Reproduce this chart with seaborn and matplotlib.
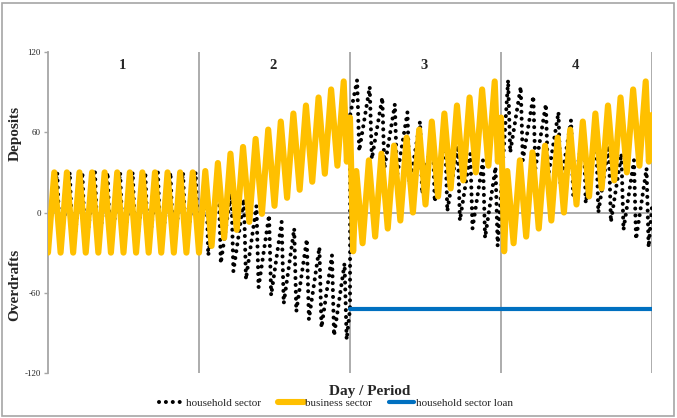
import matplotlib
matplotlib.use("Agg")
import matplotlib.pyplot as plt
import seaborn as sns
import pandas as pd
from matplotlib.lines import Line2D
from matplotlib.patches import Rectangle

# ---------------- data ----------------
PERIOD_DAYS = 360
MONTH_DAYS = 30
period_labels = ["1", "2", "3", "4"]
y_ticks = [-120, -60, 0, 60, 120]

# business sector: month peaks and troughs per period
bus_start = -30
bus_p1_peaks = [30, 30, 30, 30, 30, 30, 30, 30, 30, 30, 30, 30]
bus_p1_troughs = [-30, -30, -30, -30, -30, -30, -30, -30, -30, -30, -30, -30]
bus_p2_peaks = [31, 37, 44, 49, 55, 62, 68, 74, 80, 86, 92, 98]
bus_p2_troughs = [-25, -19, -13, -7, -1, 5, 11, 17, 23, 29, 35, 38]
bus_p3_peaks = [31, 39, 44, 50, 56, 62, 68, 74, 80, 86, 92, 98]
bus_p3_troughs = [-23, -18, -12, -6, 0, 6, 12, 18, 24, 30, 35, 38]
bus_p4_peaks = [31, 39, 45, 50, 56, 62, 68, 74, 80, 86, 92, 98]
bus_p4_troughs = [-23, -18, -12, -6, 0, 6, 12, 18, 24, 30, 35, 38]
bus_period_end = [-30, 71, 71, 73]         # value at the end of each period
bus_period_reset = [None, None, -29, -29]  # value right after a period start

# household sector: month peaks and troughs per period
hh_start = -20
hh_p1_peaks = [30, 30, 30, 30, 30, 30, 30, 30, 30, 30, 30, 30]
hh_p1_troughs = [-30, -30, -30, -30, -30, -30, -30, -30, -30, -30, -30, -30]
hh_p2_peaks = [28, 23, 17, 10, 5, -2, -7, -12, -20, -26, -32, -38]
hh_p2_troughs = [-32, -38, -44, -50, -56, -62, -68, -74, -80, -86, -92, -95]
hh_p3_peaks = [99, 94, 86, 81, 75, 68, 62, 56, 50, 44, 39, 34]
hh_p3_troughs = [46, 40, 33, 27, 20, 14, 8, 1, -6, -12, -19, -25]
hh_p4_peaks = [99, 94, 87, 81, 75, 69, 62, 56, 50, 44, 39, 33]
hh_p4_troughs = [45, 39, 33, 26, 20, 13, 7, 0, -7, -13, -20, -26]
hh_loan_jump = [-72, 73]   # household balance before / after the loan (start of period 3)
hh_end = 5

# household sector loan
loan_value = -72
loan_start_period = 3

# timing of the household peak / trough within a month (days after mid-month)
hh_peak_delay = [7, 2, 2, 2]
hh_drop_days = [7, 5, 5, 5]

# ---------------- build series ----------------
bus_peaks = [bus_p1_peaks, bus_p2_peaks, bus_p3_peaks, bus_p4_peaks]
bus_troughs = [bus_p1_troughs, bus_p2_troughs, bus_p3_troughs, bus_p4_troughs]
hh_peaks = [hh_p1_peaks, hh_p2_peaks, hh_p3_peaks, hh_p4_peaks]
hh_troughs = [hh_p1_troughs, hh_p2_troughs, hh_p3_troughs, hh_p4_troughs]

bus_day, bus_val = [0], [bus_start]
for p in range(4):
    base = p * PERIOD_DAYS
    if bus_period_reset[p] is not None:
        bus_day.append(base + 7.5); bus_val.append(bus_period_reset[p])
    for k in range(12):
        d = base + 15 + k * MONTH_DAYS
        bus_day.append(d); bus_val.append(bus_peaks[p][k])
        if k < 11:
            bus_day.append(d + 15); bus_val.append(bus_troughs[p][k])
        elif p > 0:
            bus_day.append(d + 7.5); bus_val.append(bus_troughs[p][k])
    bus_day.append(base + PERIOD_DAYS); bus_val.append(bus_period_end[p])

hh_day, hh_val = [0], [hh_start]
for p in range(4):
    base = p * PERIOD_DAYS
    if p + 1 == loan_start_period:
        hh_day += [base, base + 0.5]; hh_val += hh_loan_jump
    for k in range(12):
        d = base + 15 + k * MONTH_DAYS + hh_peak_delay[p]
        hh_day += [d, d + hh_drop_days[p]]
        hh_val += [hh_peaks[p][k], hh_troughs[p][k]]
hh_day.append(4 * PERIOD_DAYS); hh_val.append(hh_end)

loan_day = [(loan_start_period - 1) * PERIOD_DAYS, 4 * PERIOD_DAYS]
loan_val = [loan_value, loan_value]

df_bus = pd.DataFrame({"day": bus_day, "value": bus_val})
df_hh = pd.DataFrame({"day": hh_day, "value": hh_val})
df_loan = pd.DataFrame({"day": loan_day, "value": loan_val})

# ---------------- plot ----------------
sns.set_theme(style="white")
plt.rcParams["font.family"] = ["Liberation Serif", "DejaVu Serif"]

W, H = 677, 418
fig = plt.figure(figsize=(W / 100, H / 100), dpi=100)
ax = fig.add_axes([48 / W, 1 - 373 / H, (652 - 48) / W, (373 - 52) / H])

GREY = "#A6A6A6"
YELLOW = "#FFC000"
BLUE = "#0070C0"
DOT = (0, (0.01, 1.7))

for p in range(1, 5):
    ax.axvline(p * PERIOD_DAYS, color=GREY, lw=1.3, zorder=1)
ax.axhline(0, color=GREY, lw=1.3, zorder=1)

sns.lineplot(data=df_hh, x="day", y="value", estimator=None, sort=False, ax=ax,
             color="black", lw=2.9, linestyle=DOT, dash_capstyle="round", zorder=2)
sns.lineplot(data=df_bus, x="day", y="value", estimator=None, sort=False, ax=ax,
             color=YELLOW, lw=4.4, solid_joinstyle="round", zorder=3)
sns.lineplot(data=df_loan, x="day", y="value", estimator=None, sort=False, ax=ax,
             color=BLUE, lw=3.0, solid_capstyle="round", zorder=4)

ax.set_xlim(0, 4 * PERIOD_DAYS)
ax.set_ylim(-120, 120)
ax.set_xticks([])
ax.set_yticks(y_ticks)
ax.set_yticklabels([str(t) for t in y_ticks])
ax.tick_params(axis="y", direction="out", length=3, width=1, color=GREY,
               labelsize=6.5, pad=2, left=True)
ax.set_xlabel("")
ax.set_ylabel("")
for s in ["top", "right", "bottom"]:
    ax.spines[s].set_visible(False)
ax.spines["left"].set_color(GREY)
ax.spines["left"].set_linewidth(1.3)
ax.patch.set_alpha(0)

for i, lab in enumerate(period_labels):
    ax.text(i * PERIOD_DAYS + PERIOD_DAYS / 2 - 3, 110, lab, ha="center", va="center",
            fontsize=10.5, fontweight="bold")

fig.text(15 / W, 1 - 133 / H, "Deposits", rotation=90, ha="center", va="center",
         fontsize=11, fontweight="bold")
fig.text(15 / W, 1 - 285 / H, "Overdrafts", rotation=90, ha="center", va="center",
         fontsize=11, fontweight="bold")
fig.text(370 / W, 1 - 392 / H, "Day / Period", ha="center", va="center",
         fontsize=11, fontweight="bold")

handles = [
    Line2D([0], [0], color="black", lw=2.9, linestyle=DOT, dash_capstyle="round"),
    Line2D([0], [0], color=YELLOW, lw=4.4, solid_capstyle="round"),
    Line2D([0], [0], color=BLUE, lw=3.0, solid_capstyle="round"),
]
labels = ["household sector", "business sector", "household sector loan"]
fig.legend(handles, labels, loc="center", bbox_to_anchor=(336 / W, 1 - 403 / H), ncol=3,
           frameon=False, fontsize=8, handlelength=2.3, handletextpad=0.15,
           columnspacing=1.5, borderpad=0)

fig.patches.append(Rectangle((2 / W, 2 / H), 672 / W, 413 / H, transform=fig.transFigure,
                             fill=False, edgecolor=GREY, lw=1.2))

fig.savefig("out.png", dpi=100, facecolor="white")
